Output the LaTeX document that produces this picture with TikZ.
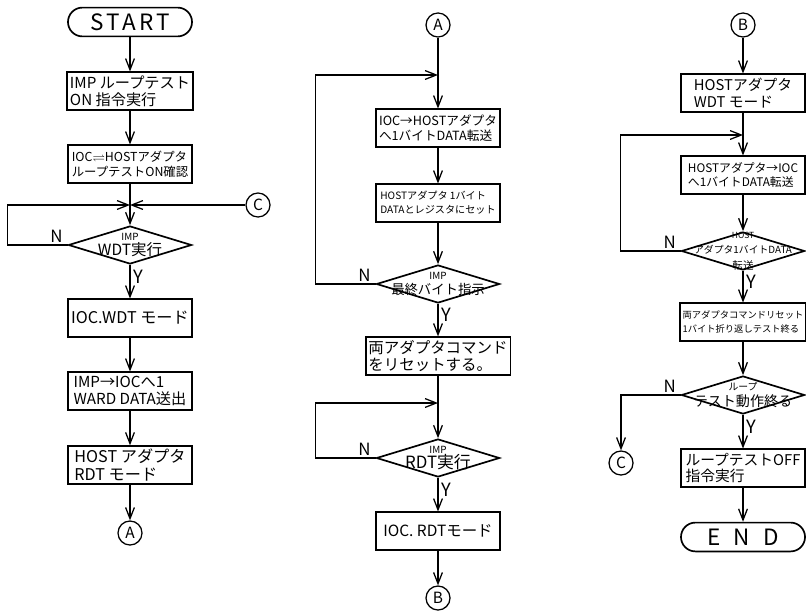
\documentclass[tikz,border=0pt]{standalone}
\usepackage{fontspec}
\usepackage{amssymb}
\newfontfamily\jpfont{Noto Sans CJK JP}
\usetikzlibrary{arrows.meta,shapes.geometric}
\newcommand{\fsz}[2]{\fontsize{#1}{#2}\selectfont}

\begin{document}
\begin{tikzpicture}[
    x=0.025cm, y=-0.025cm,
    opstep/.style={
        draw,
        line width=1.3pt,
        minimum width=3.08cm,
        minimum height=0.93cm,
        inner sep=2pt,
        align=left
    },
    testshape/.style={
        draw,
        diamond,
        line width=1.2pt,
        minimum width=3.08cm,
        minimum height=0.95cm,
        inner sep=0pt
    },
    testtext/.style={align=center, inner sep=0pt, font=\jpfont\fsz{11}{11}},
    terminal/.style={
        draw,
        rounded corners=3.6mm,
        line width=1.2pt,
        minimum width=3.1cm,
        minimum height=0.72cm
    },
    pagelink/.style={draw, circle, line width=0.9pt, minimum size=0.6cm, inner sep=0pt, font=\jpfont\fsz{11}{11}},
    arrow/.style={-{Straight Barb[length=2.8mm,width=2.2mm]}, line width=0.9pt},
    nlabel/.style={anchor=south east, inner sep=1pt, xshift=-2pt, font=\jpfont\fsz{12}{12}},
    ylabel/.style={right, pos=0.35, inner sep=2pt, font=\jpfont\fsz{13}{13}}
]
\useasboundingbox (0,0) rectangle (806,611);

\node[terminal, font=\jpfont\fsz{16}{16}\addfontfeature{LetterSpace=15}] (start) at (130,22) {START};
\node[opstep, font=\jpfont\fsz{10.8}{12}] (loopon) at (130,91) {IMP ループテスト\\ON 指令実行};
\node[opstep, font=\jpfont\fsz{8.8}{11}] (loopchk) at (130,164) {IOC$\rightleftharpoons$HOSTアダプタ\\ループテストON確認};
\coordinate (joinc) at (130,205);
\node[pagelink] (linkc) at (258,205) {C};
\node[testshape, label={[testtext]center:{{\fsz{7}{7}IMP}\\WDT実行}}] (wdtq) at (130,245) {};
\node[opstep, font=\jpfont\fsz{11.5}{13}] (iocwdt) at (130,318) {IOC.WDT モード};
\node[opstep, font=\jpfont\fsz{10.8}{12}] (wardsend) at (130,391) {IMP→IOCへ1\\WARD DATA送出};
\node[opstep, font=\jpfont\fsz{11.5}{12.5}] (hostrdt) at (130,465) {HOST アダプタ\\RDT モード};
\node[pagelink] (linka) at (130,533) {A};

\node[pagelink] (linka2) at (438,25) {A};
\coordinate (joina) at (438,75);
\node[opstep, font=\jpfont\fsz{9}{11}] (sendhost) at (438,128) {IOC→HOSTアダプタ\\へ1バイトDATA転送};
\node[opstep, font=\jpfont\fsz{7.2}{10}] (setreg) at (438,203) {HOSTアダプタ 1バイト\\DATAとレジスタにセット};
\node[testshape, label={[testtext]center:{{\fsz{7}{7}IMP}\\{\fsz{9.5}{10}最終バイト指示}}}] (lastq) at (438,284) {};
\node[opstep, font=\jpfont\fsz{11}{12.5}] (resetcmd) at (438,356) {両アダプタコマンド\\をリセットする。};
\coordinate (joinr) at (438,403);
\node[testshape, label={[testtext]center:{{\fsz{7}{7}IMP}\\{\fsz{12}{12}RDT実行}}}] (rdtq) at (438,458) {};
\node[opstep, font=\jpfont\fsz{11}{13}] (iocrdt) at (438,531) {IOC. RDTモード};
\node[pagelink] (linkb) at (438,598) {B};

\node[pagelink] (linkb2) at (743,25) {B};
\node[opstep, font=\jpfont\fsz{10.5}{12}] (hostwdt) at (743,93) {HOSTアダプタ\\WDT モード};
\coordinate (joinh) at (743,135);
\node[opstep, font=\jpfont\fsz{8.4}{10.5}] (sendioc) at (743,175) {HOSTアダプタ→IOC\\へ1バイトDATA転送};
\node[testshape, label={[testtext]center:{{\fsz{6}{6}HOST}\\{\fsz{7}{7.5}アダプタ1バイトDATA}\\{\fsz{7.5}{7.5}転送}}}] (byteq) at (743,251) {};
\node[opstep, font=\jpfont\fsz{6.6}{9.5}] (resetall) at (743,322) {両アダプタコマンドリセット\\1バイト折り返しテスト終る};
\node[testshape, label={[testtext]center:{{\fsz{7}{7}ループ}\\{\fsz{10}{10}テスト動作終る}}}] (loopq) at (743,395) {};
\node[pagelink] (linkc2) at (621,463) {C};
\node[opstep, font=\jpfont\fsz{10.5}{12}] (loopoff) at (743,468) {ループテストOFF\\指令実行};
\node[terminal, font=\jpfont\fsz{16}{16}\addfontfeature{LetterSpace=60}] (finish) at (743,537) {END};

\draw[arrow] (start) -- (loopon);
\draw[arrow] (loopon) -- (loopchk);
\draw[arrow] (loopchk) -- (wdtq);
\draw[arrow] (wdtq.west) node[nlabel] {N} -- ++(-60,0) |- (joinc);
\draw[arrow] (linkc) -- (joinc);
\draw[arrow] (wdtq) -- node[ylabel] {Y} (iocwdt);
\draw[arrow] (iocwdt) -- (wardsend);
\draw[arrow] (wardsend) -- (hostrdt);
\draw[arrow] (hostrdt) -- (linka);

\draw[arrow] (linka2) -- (sendhost);
\draw[arrow] (sendhost) -- (setreg);
\draw[arrow] (setreg) -- (lastq);
\draw[arrow] (lastq.west) node[nlabel] {N} -- ++(-60,0) |- (joina);
\draw[arrow] (lastq) -- node[ylabel] {Y} (resetcmd);
\draw[arrow] (resetcmd) -- (rdtq);
\draw[arrow] (rdtq.west) node[nlabel] {N} -- ++(-60,0) |- (joinr);
\draw[arrow] (rdtq) -- node[ylabel] {Y} (iocrdt);
\draw[arrow] (iocrdt) -- (linkb);

\draw[arrow] (linkb2) -- (hostwdt);
\draw[arrow] (hostwdt) -- (sendioc);
\draw[arrow] (sendioc) -- (byteq);
\draw[arrow] (byteq.west) node[nlabel] {N} -- ++(-60,0) |- (joinh);
\draw[arrow] (byteq) -- node[ylabel] {Y} (resetall);
\draw[arrow] (resetall) -- (loopq);
\draw[arrow] (loopq.west) node[nlabel] {N} -| (linkc2);
\draw[arrow] (loopq) -- node[ylabel] {Y} (loopoff);
\draw[arrow] (loopoff) -- (finish);
\end{tikzpicture}
\end{document}
